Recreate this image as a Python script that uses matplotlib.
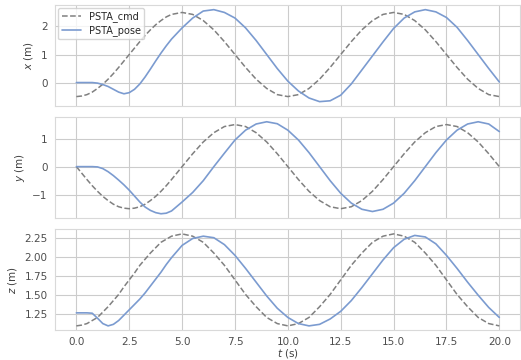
import matplotlib
matplotlib.use("Agg")
import matplotlib.pyplot as plt
import seaborn as sns

# time axis: 0.25 s steps up to 4.5 s (start-up transient), then 0.5 s steps
t = [0.0, 0.25, 0.5, 0.75, 1.0, 1.25, 1.5, 1.75, 2.0, 2.25, 2.5, 2.75, 3.0,
     3.25, 3.5, 3.75, 4.0, 4.25, 4.5,
     5.0, 5.5, 6.0, 6.5, 7.0, 7.5, 8.0, 8.5, 9.0, 9.5, 10.0,
     10.5, 11.0, 11.5, 12.0, 12.5, 13.0, 13.5, 14.0, 14.5, 15.0,
     15.5, 16.0, 16.5, 17.0, 17.5, 18.0, 18.5, 19.0, 19.5, 20.0]

# commanded trajectory
x_cmd = [-0.50, -0.48, -0.43, -0.34, -0.21, -0.06, 0.12, 0.32, 0.54, 0.77, 1.00,
         1.23, 1.46, 1.68, 1.88, 2.06, 2.21, 2.34, 2.43,
         2.50, 2.43, 2.21, 1.88, 1.46, 1.00, 0.54, 0.12, -0.21, -0.43, -0.50,
         -0.43, -0.21, 0.12, 0.54, 1.00, 1.46, 1.88, 2.21, 2.43, 2.50,
         2.43, 2.21, 1.88, 1.46, 1.00, 0.54, 0.12, -0.21, -0.43, -0.50]
y_cmd = [0.00, -0.23, -0.46, -0.68, -0.88, -1.06, -1.21, -1.34, -1.43, -1.48, -1.50,
         -1.48, -1.43, -1.34, -1.21, -1.06, -0.88, -0.68, -0.46,
         0.00, 0.46, 0.88, 1.21, 1.43, 1.50, 1.43, 1.21, 0.88, 0.46, 0.00,
         -0.46, -0.88, -1.21, -1.43, -1.50, -1.43, -1.21, -0.88, -0.46, 0.00,
         0.46, 0.88, 1.21, 1.43, 1.50, 1.43, 1.21, 0.88, 0.46, 0.00]
z_cmd = [1.10, 1.11, 1.13, 1.17, 1.21, 1.28, 1.35, 1.43, 1.51, 1.61, 1.70,
         1.79, 1.89, 1.97, 2.05, 2.12, 2.19, 2.23, 2.27,
         2.30, 2.27, 2.19, 2.05, 1.89, 1.70, 1.51, 1.35, 1.21, 1.13, 1.10,
         1.13, 1.21, 1.35, 1.51, 1.70, 1.89, 2.05, 2.19, 2.27, 2.30,
         2.27, 2.19, 2.05, 1.89, 1.70, 1.51, 1.35, 1.21, 1.13, 1.10]

# measured pose
x_pose = [0.00, 0.00, 0.00, 0.00, -0.02, -0.07, -0.14, -0.24, -0.34, -0.40, -0.36,
          -0.24, -0.05, 0.20, 0.48, 0.77, 1.05, 1.31, 1.55,
          1.95, 2.30, 2.55, 2.60, 2.50, 2.30, 1.95, 1.50, 1.00, 0.50, 0.05,
          -0.30, -0.55, -0.68, -0.65, -0.45, -0.05, 0.45, 0.95, 1.45, 1.93,
          2.30, 2.52, 2.60, 2.52, 2.32, 1.97, 1.50, 1.00, 0.50, 0.02]
y_pose = [0.00, 0.00, 0.00, 0.00, -0.01, -0.07, -0.18, -0.32, -0.48, -0.65, -0.84,
          -1.05, -1.26, -1.44, -1.56, -1.64, -1.68, -1.66, -1.58,
          -1.26, -0.92, -0.50, 0.00, 0.48, 0.95, 1.30, 1.52, 1.60, 1.53, 1.30,
          0.95, 0.50, 0.00, -0.50, -0.95, -1.30, -1.52, -1.60, -1.52, -1.30,
          -0.95, -0.50, 0.00, 0.50, 0.95, 1.30, 1.52, 1.60, 1.52, 1.25]
z_pose = [1.27, 1.27, 1.27, 1.265, 1.20, 1.13, 1.10, 1.12, 1.17, 1.24, 1.31,
          1.38, 1.45, 1.53, 1.62, 1.71, 1.80, 1.90, 1.99,
          2.15, 2.24, 2.27, 2.25, 2.16, 2.02, 1.85, 1.67, 1.49, 1.33, 1.21,
          1.13, 1.10, 1.12, 1.19, 1.29, 1.43, 1.60, 1.78, 1.96, 2.12,
          2.23, 2.28, 2.26, 2.17, 2.02, 1.85, 1.67, 1.50, 1.34, 1.21]

sns.set_style("whitegrid")
plt.rcParams['font.family'] = ['DejaVu Sans']
plt.rcParams['font.size'] = 7.5

fig, axes = plt.subplots(3, 1, sharex=True, figsize=(5.21, 3.6), dpi=100)
fig.subplots_adjust(left=0.106, right=0.999, top=0.986, bottom=0.082, hspace=0.108)

cmd = [x_cmd, y_cmd, z_cmd]
pose = [x_pose, y_pose, z_pose]
labels = ['$x$ (m)', '$y$ (m)', '$z$ (m)']

for ax, c, p, lab in zip(axes, cmd, pose, labels):
    ax.plot(t, c, '--', color='gray', lw=1.1, label='PSTA_cmd')
    ax.plot(t, p, '-', color='#7b9bd0', lw=1.2, label='PSTA_pose')
    ax.set_ylabel(lab, fontsize=7.5, color='.25')
    ax.tick_params(labelsize=7.5, colors='.3', pad=2)
    for s in ax.spines.values():
        s.set_color('.85')

axes[2].set_yticks([1.25, 1.50, 1.75, 2.00, 2.25])
axes[2].set_xticks([0, 2.5, 5, 7.5, 10, 12.5, 15, 17.5, 20])
axes[2].tick_params(axis='x', pad=1.5)
axes[2].set_xlabel('$t$ (s)', fontsize=7.5, color='.25', labelpad=0)
axes[0].legend(loc='upper left', fontsize=7, frameon=True, borderpad=0.35,
               handlelength=2.0, labelspacing=0.3, borderaxespad=0.3)

plt.savefig("out.png", dpi=100)
